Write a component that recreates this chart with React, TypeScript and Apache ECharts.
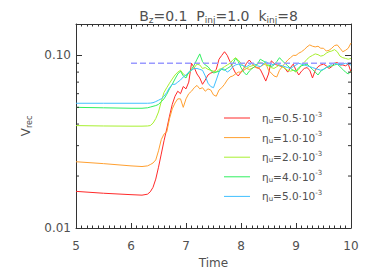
import React, { useEffect, useRef } from "react";
import * as echarts from "echarts";

const TIME = [5.0, 5.5, 6.0, 6.2, 6.3, 6.35, 6.4, 6.45, 6.5, 6.55, 6.6, 6.65, 6.7, 6.75, 6.8, 6.85, 6.9, 6.95,
  7.0, 7.05, 7.1, 7.15, 7.2, 7.25, 7.3, 7.35, 7.4, 7.45, 7.5, 7.55, 7.6, 7.65, 7.7, 7.75, 7.8, 7.85, 7.9, 7.95,
  8.0, 8.05, 8.1, 8.15, 8.2, 8.25, 8.3, 8.35, 8.4, 8.45, 8.5, 8.55, 8.6, 8.65, 8.7, 8.75, 8.8, 8.85, 8.9, 8.95,
  9.0, 9.05, 9.1, 9.15, 9.2, 9.25, 9.3, 9.35, 9.4, 9.45, 9.5, 9.55, 9.6, 9.65, 9.7, 9.75, 9.8, 9.85, 9.9, 9.95, 10.0];

const ETA_05 = [0.0163, 0.0159, 0.0156, 0.0155, 0.0157, 0.0162, 0.0172, 0.0192, 0.0225, 0.0268, 0.0320, 0.0375, 0.0445, 0.0520, 0.0580, 0.0620, 0.0600, 0.0660,
  0.0640, 0.0700, 0.0900, 0.0850, 0.0780, 0.0740, 0.0680, 0.0720, 0.0770, 0.0790, 0.0800, 0.0830, 0.0950, 0.1000, 0.1050, 0.1000, 0.0920, 0.0850, 0.0790, 0.0760,
  0.0800, 0.0840, 0.0900, 0.0940, 0.0900, 0.0860, 0.0850, 0.0830, 0.0770, 0.0710, 0.0780, 0.0930, 0.0900, 0.0880, 0.0870, 0.0860, 0.0840, 0.0800, 0.0850, 0.0890,
  0.0820, 0.0770, 0.0810, 0.0840, 0.0850, 0.0820, 0.0740, 0.0820, 0.0860, 0.0880, 0.0890, 0.0870, 0.0840, 0.0860, 0.0900, 0.0910, 0.0880, 0.0880, 0.0870, 0.0890, 0.0800];

const ETA_10 = [0.0242, 0.0236, 0.0229, 0.0227, 0.0229, 0.0233, 0.0238, 0.0248, 0.0280, 0.0325, 0.0350, 0.0360, 0.0430, 0.0490, 0.0530, 0.0560, 0.0560, 0.0500,
  0.0560, 0.0600, 0.0620, 0.0650, 0.0670, 0.0640, 0.0650, 0.0620, 0.0640, 0.0630, 0.0590, 0.0580, 0.0630, 0.0650, 0.0680, 0.0720, 0.0750, 0.0760, 0.0780, 0.0800,
  0.0800, 0.0820, 0.0840, 0.0830, 0.0840, 0.0860, 0.0840, 0.0860, 0.0880, 0.0900, 0.0820, 0.0790, 0.0760, 0.0750, 0.0820, 0.0860, 0.0900, 0.0940, 0.0970, 0.1000,
  0.1000, 0.1030, 0.1050, 0.1080, 0.1120, 0.1150, 0.1130, 0.1120, 0.1130, 0.1100, 0.1100, 0.1060, 0.1070, 0.1100, 0.1140, 0.1150, 0.1100, 0.1050, 0.1070, 0.1100, 0.1180];

const ETA_20 = [0.0392, 0.0390, 0.0389, 0.0389, 0.0390, 0.0392, 0.0405, 0.0430, 0.0470, 0.0540, 0.0610, 0.0650, 0.0690, 0.0730, 0.0770, 0.0800, 0.0820, 0.0780,
  0.0760, 0.0790, 0.0820, 0.0850, 0.0890, 0.0880, 0.0840, 0.0850, 0.0830, 0.0820, 0.0810, 0.0800, 0.0830, 0.0840, 0.0860, 0.0880, 0.0900, 0.0940, 0.0970, 0.0940,
  0.0900, 0.0860, 0.0840, 0.0860, 0.0870, 0.0880, 0.0890, 0.0910, 0.0900, 0.0880, 0.0870, 0.0850, 0.0840, 0.0860, 0.0880, 0.0860, 0.0840, 0.0820, 0.0810, 0.0820,
  0.0800, 0.0830, 0.0880, 0.0910, 0.0950, 0.0980, 0.1000, 0.1020, 0.1010, 0.0990, 0.1000, 0.1030, 0.1050, 0.1060, 0.1080, 0.1050, 0.0990, 0.0970, 0.0960, 0.0950, 0.0960];

const ETA_40 = [0.0500, 0.0497, 0.0494, 0.0494, 0.0497, 0.0502, 0.0507, 0.0512, 0.0520, 0.0540, 0.0560, 0.0595, 0.0640, 0.0680, 0.0730, 0.0780, 0.0810, 0.0760,
  0.0740, 0.0800, 0.0830, 0.0880, 0.0950, 0.1020, 0.0920, 0.0880, 0.0860, 0.0820, 0.0790, 0.0800, 0.0810, 0.0830, 0.0820, 0.0840, 0.0860, 0.0890, 0.0960, 0.0920,
  0.0850, 0.0800, 0.0770, 0.0810, 0.0840, 0.0860, 0.0890, 0.0950, 0.0930, 0.0910, 0.0880, 0.0860, 0.0880, 0.0920, 0.0970, 0.0930, 0.0900, 0.0870, 0.0840, 0.0820,
  0.0810, 0.0850, 0.0870, 0.0880, 0.0890, 0.0860, 0.0830, 0.0800, 0.0770, 0.0810, 0.0830, 0.0850, 0.0860, 0.0870, 0.0880, 0.0890, 0.0860, 0.0830, 0.0800, 0.0780, 0.0810];

const ETA_50 = [0.0528, 0.0528, 0.0528, 0.0528, 0.0528, 0.0529, 0.0532, 0.0540, 0.0550, 0.0560, 0.0580, 0.0610, 0.0650, 0.0680, 0.0680, 0.0700, 0.0720, 0.0750,
  0.0770, 0.0800, 0.0820, 0.0840, 0.0840, 0.0830, 0.0820, 0.0760, 0.0690, 0.0660, 0.0650, 0.0720, 0.0800, 0.0840, 0.0830, 0.0800, 0.0820, 0.0860, 0.0880, 0.0890,
  0.0880, 0.0870, 0.0860, 0.0880, 0.0900, 0.0890, 0.0870, 0.0860, 0.0890, 0.0920, 0.0900, 0.0880, 0.0890, 0.0900, 0.0880, 0.0870, 0.0860, 0.0850, 0.0840, 0.0860,
  0.0880, 0.0900, 0.0890, 0.0880, 0.0870, 0.0860, 0.0850, 0.0840, 0.0830, 0.0820, 0.0830, 0.0850, 0.0870, 0.0890, 0.0900, 0.0890, 0.0880, 0.0890, 0.0900, 0.0890, 0.0880];

const REF_TIME = [6.0, 10.0];
const REF_VALUE = [0.09, 0.09];

const SERIES_NAMES = ["0.5", "1.0", "2.0", "4.0", "5.0"];
const SERIES_DATA = [ETA_05, ETA_10, ETA_20, ETA_40, ETA_50];
const COLORS = ["#ff2a2a", "#ffa030", "#a8f030", "#30f060", "#40c0ff"];

const Y_MINOR = [0.02, 0.03, 0.04, 0.05, 0.06, 0.07, 0.08, 0.09];
const X_MIN = 5;
const X_MAX = 10;
const Y_MIN = 0.01;
const Y_MAX = 0.152;

const TXT = "#505050";
const AX = "#333";
const FONT = "DejaVu Sans";

export default function App() {
  const ref = useRef<HTMLDivElement>(null);
  useEffect(() => {
    if (!ref.current) return;
    const chart = echarts.init(ref.current, null, { renderer: "svg" });
    const lineSeries = SERIES_NAMES.map((name, i) => ({
      type: "line",
      name,
      data: TIME.map((t, k) => [t, SERIES_DATA[i][k]]),
      showSymbol: false,
      symbol: "none",
      lineStyle: { color: COLORS[i], width: 1 },
      itemStyle: { color: COLORS[i] },
      z: 3 + i,
    }));
    const legendGraphics: any[] = [];
    SERIES_NAMES.forEach((name, i) => {
      const cy = 118 + i * 19.6;
      legendGraphics.push({
        type: "line",
        shape: { x1: 224, y1: cy, x2: 250, y2: cy },
        style: { stroke: COLORS[i], lineWidth: 1 },
      });
      legendGraphics.push({
        type: "text",
        x: 262,
        y: cy,
        style: {
          text: `{a|η}{s|u}{a|=${name}·10}{p|-3}`,
          verticalAlign: "middle",
          align: "left",
          rich: {
            a: { fontSize: 10.5, fill: TXT, fontFamily: FONT },
            s: { fontSize: 7, fill: TXT, fontFamily: FONT, padding: [6, 0, 0, 0] },
            p: { fontSize: 7, fill: TXT, fontFamily: FONT, padding: [0, 0, 7, 0] },
          },
        },
      });
    });
    const axisLine = { show: true, lineStyle: { color: AX, width: 1 } };
    chart.setOption({
      animation: false,
      backgroundColor: "#fff",
      title: {
        text: "{a|B}{s|z}{a|=0.1  P}{s|inj}{a|=1.0  k}{s|inj}{a|=8}",
        left: 213.5,
        textAlign: "center",
        top: 3,
        textStyle: {
          fontWeight: "normal",
          rich: {
            a: { fontSize: 14, color: TXT, fontFamily: FONT, fontWeight: "normal" },
            s: { fontSize: 9, color: TXT, fontFamily: FONT, fontWeight: "normal", padding: [7, 0, 0, 0] },
          },
        },
      },
      graphic: legendGraphics,
      grid: { left: 76, right: 23, top: 24, bottom: 52 },
      xAxis: [
        {
          type: "value",
          min: X_MIN,
          max: X_MAX,
          interval: 1,
          name: "Time",
          nameLocation: "middle",
          nameGap: 26,
          nameTextStyle: { color: TXT, fontFamily: FONT, fontSize: 12 },
          axisLine,
          axisTick: { show: true, inside: true, length: 5, lineStyle: { color: AX } },
          minorTick: { show: true, splitNumber: 10, length: 2.5, lineStyle: { color: AX } },
          splitLine: { show: false },
          axisLabel: { color: TXT, fontFamily: FONT, fontSize: 12, margin: 12 },
        },
        {
          type: "value",
          position: "top",
          min: X_MIN,
          max: X_MAX,
          interval: 1,
          axisLine,
          axisTick: { show: true, inside: true, length: 5, lineStyle: { color: AX } },
          minorTick: { show: true, splitNumber: 10, length: 2.5, lineStyle: { color: AX } },
          splitLine: { show: false },
          axisLabel: { show: false },
        },
      ],
      yAxis: [
        {
          type: "log",
          logBase: 10,
          min: Y_MIN,
          max: Y_MAX,
          name: "{a|V}{s|rec}",
          nameLocation: "middle",
          nameGap: 40,
          nameTextStyle: {
            rich: {
              a: { fontSize: 12, color: TXT, fontFamily: FONT },
              s: { fontSize: 8, color: TXT, fontFamily: FONT, padding: [6, 0, 0, 0] },
            },
          },
          axisLine,
          axisTick: { show: true, inside: true, length: 6, lineStyle: { color: AX } },
          splitLine: { show: false },
          axisLabel: {
            color: TXT,
            fontFamily: FONT,
            fontSize: 12,
            margin: 5,
            formatter: (v: number) =>
              Math.abs(v - 0.01) < 1e-6 ? "0.01" : Math.abs(v - 0.1) < 1e-6 ? "0.10" : "",
          },
        },
        {
          type: "log",
          logBase: 10,
          position: "right",
          min: Y_MIN,
          max: Y_MAX,
          axisLine,
          axisTick: { show: true, inside: true, length: 6, lineStyle: { color: AX } },
          splitLine: { show: false },
          axisLabel: { show: false },
        },
      ],
      series: [
        ...lineSeries,
        {
          type: "line",
          name: "ref",
          data: REF_TIME.map((t, k) => [t, REF_VALUE[k]]),
          showSymbol: false,
          symbol: "none",
          lineStyle: { color: "#9a9aff", width: 1.6, type: [6, 3] },
          z: 10,
        },
        {
          type: "custom",
          name: "minorY",
          silent: true,
          clip: false,
          data: Y_MINOR.map((v) => [X_MIN, v]),
          encode: { x: 0, y: 1 },
          renderItem: (_p: any, api: any) => {
            const v = api.value(1);
            const l = api.coord([X_MIN, v]);
            const r = api.coord([X_MAX, v]);
            const st = { stroke: AX, lineWidth: 1 };
            return {
              type: "group",
              children: [
                { type: "line", shape: { x1: l[0], y1: l[1], x2: l[0] + 3, y2: l[1] }, style: st },
                { type: "line", shape: { x1: r[0], y1: r[1], x2: r[0] - 3, y2: r[1] }, style: st },
              ],
            };
          },
          z: 20,
        },
      ],
    });
    return () => chart.dispose();
  }, []);
  return <div ref={ref} style={{ width: 374, height: 280, position: "absolute", left: 0, top: 0 }} />;
}
